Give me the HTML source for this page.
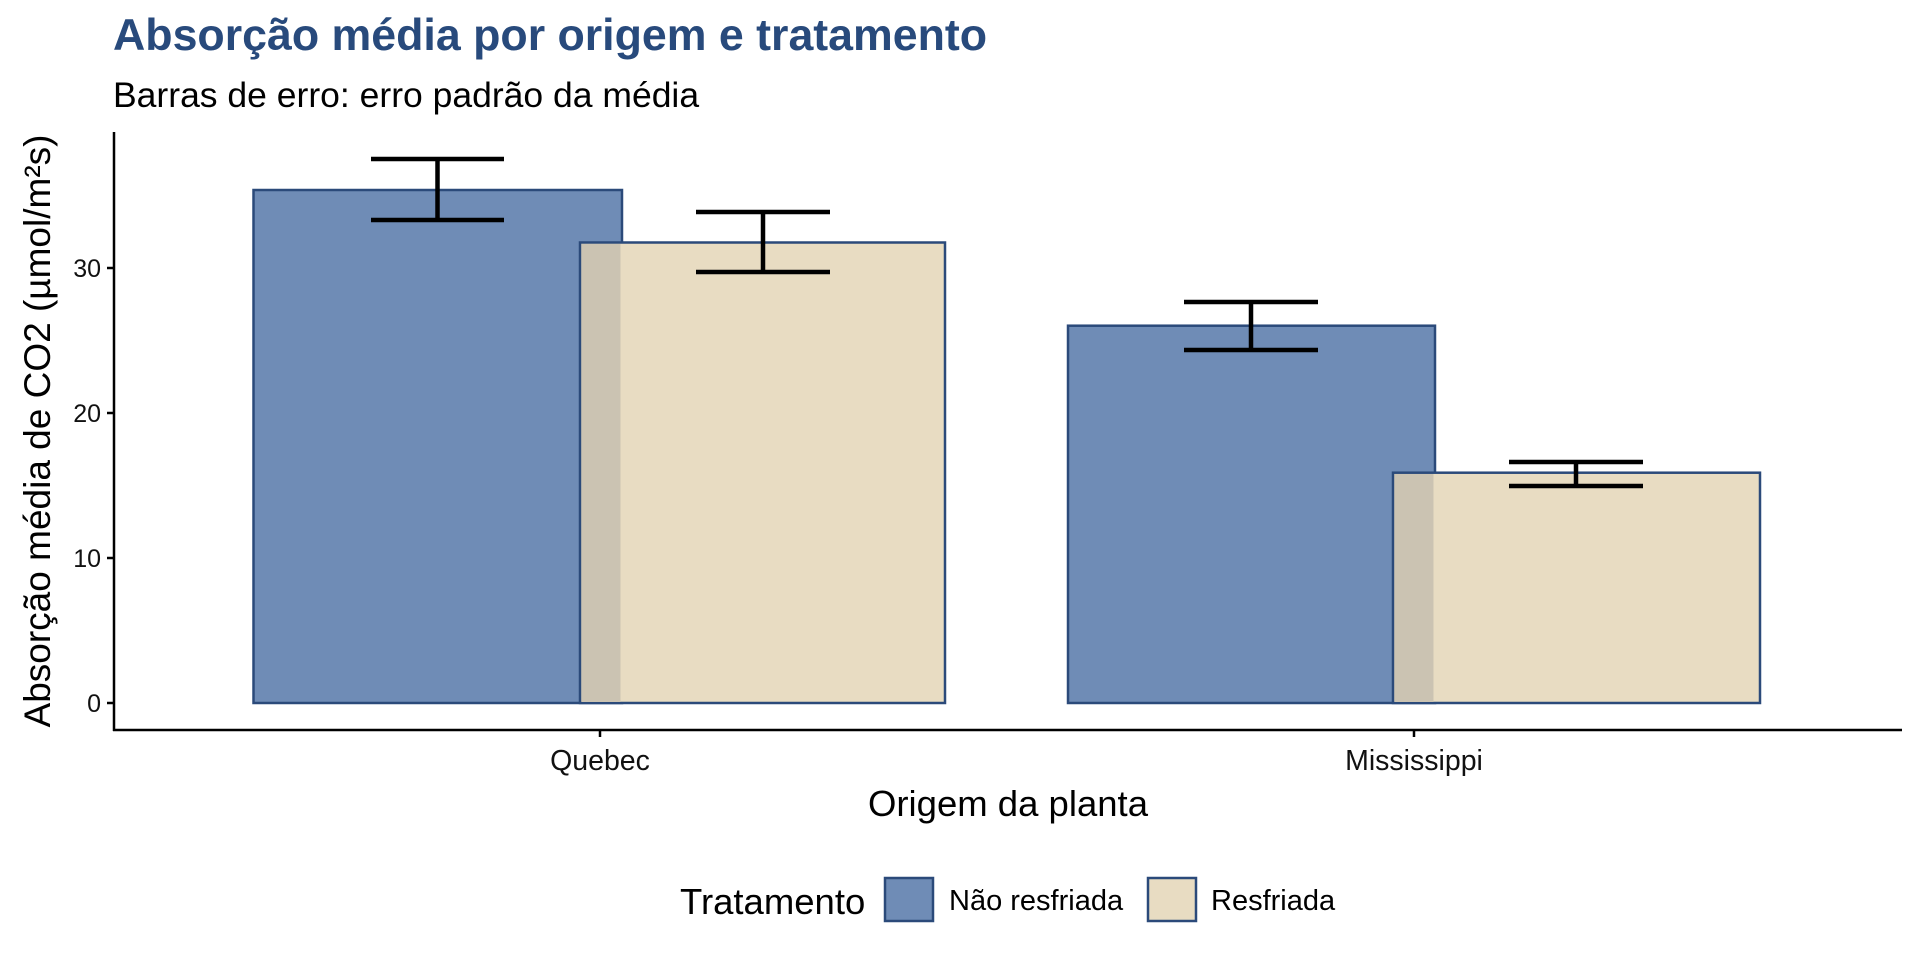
<!DOCTYPE html>
<html><head><meta charset="utf-8"><style>
html,body{margin:0;padding:0;background:#fff}
svg{display:block;font-family:"Liberation Sans",Arial,sans-serif}
</style></head><body>
<svg width="1920" height="960" viewBox="0 0 1920 960" xmlns="http://www.w3.org/2000/svg">
<rect width="1920" height="960" fill="#fff"/>
<text x="113" y="50" font-size="44.7" font-weight="bold" fill="#284a7c">Absorção média por origem e tratamento</text>
<text x="113" y="107" font-size="35.5" fill="#000">Barras de erro: erro padrão da média</text>
<!-- bars -->
<rect x="253.5" y="190" width="368.5" height="513" fill="#6f8cb6" stroke="#2b4a7a" stroke-width="2.5"/>
<rect x="580" y="242.5" width="365" height="460.5" fill="#e8dcc2" stroke="#2b4a7a" stroke-width="2.5"/>
<rect x="581.5" y="244" width="39" height="458" fill="#cbc3b2"/>
<rect x="1068" y="325.7" width="367" height="377.3" fill="#6f8cb6" stroke="#2b4a7a" stroke-width="2.5"/>
<rect x="1393" y="472.7" width="367" height="230.3" fill="#e8dcc2" stroke="#2b4a7a" stroke-width="2.5"/>
<rect x="1394.5" y="474" width="39" height="228" fill="#cbc3b2"/>
<!-- error bars -->
<g stroke="#000" stroke-width="4.5" fill="none">
<path d="M371 159H504M437.5 159V220M371 220H504"/>
<path d="M696 212H830M763 212V272M696 272H830"/>
<path d="M1184 302H1318M1251 302V350M1184 350H1318"/>
<path d="M1509 462H1643M1576 462V486M1509 486H1643"/>
</g>
<!-- axes -->
<g stroke="#000" stroke-width="2.5">
<line x1="114" y1="132" x2="114" y2="731"/>
<line x1="113" y1="730" x2="1902" y2="730"/>
<line x1="107" y1="703" x2="114" y2="703"/>
<line x1="107" y1="558" x2="114" y2="558"/>
<line x1="107" y1="413" x2="114" y2="413"/>
<line x1="107" y1="268" x2="114" y2="268"/>
<line x1="600" y1="730" x2="600" y2="737"/>
<line x1="1414" y1="730" x2="1414" y2="737"/>
</g>
<g font-size="25" fill="#111" text-anchor="end">
<text x="101" y="712">0</text>
<text x="101" y="567">10</text>
<text x="101" y="422">20</text>
<text x="101" y="277">30</text>
</g>
<g font-size="28.5" fill="#111" text-anchor="middle">
<text x="600" y="770">Quebec</text>
<text x="1414" y="770">Mississippi</text>
</g>
<text x="1008" y="816" font-size="36.5" text-anchor="middle" fill="#000">Origem da planta</text>
<text transform="translate(50,431) rotate(-90)" font-size="37" text-anchor="middle" fill="#000">Absorção média de CO2 (µmol/m²s)</text>
<!-- legend -->
<text x="680" y="914" font-size="36.5" fill="#000">Tratamento</text>
<rect x="885" y="878" width="48" height="43" fill="#6f8cb6" stroke="#2b4a7a" stroke-width="2.5"/>
<text x="949" y="910" font-size="29" fill="#000">Não resfriada</text>
<rect x="1148" y="878" width="48" height="43" fill="#e8dcc2" stroke="#2b4a7a" stroke-width="2.5"/>
<text x="1211" y="910" font-size="29" fill="#000">Resfriada</text>
</svg>
</body></html>
